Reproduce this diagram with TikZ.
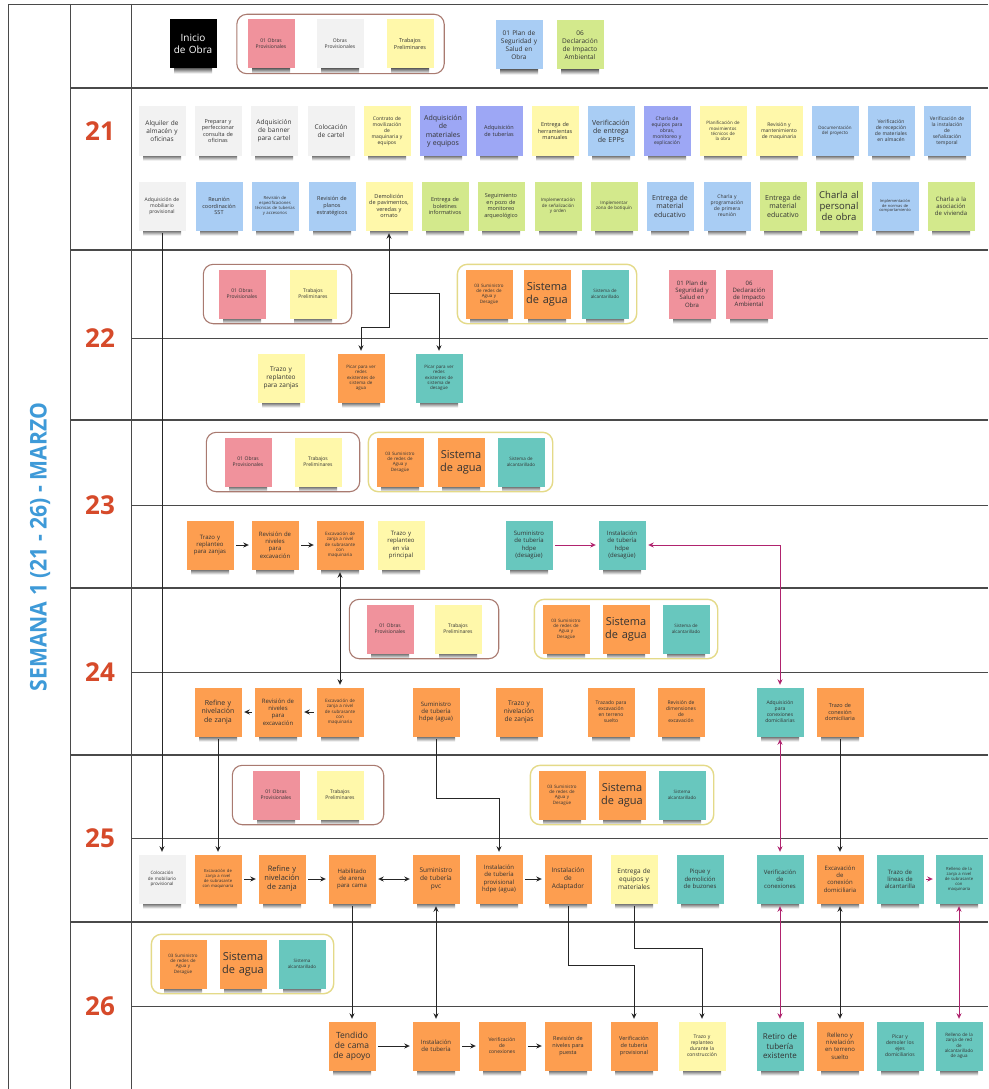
\documentclass[tikz,border=0pt]{standalone}
\usepackage{fontspec}
\setmainfont{Open Sans}
\usetikzlibrary{arrows.meta,fit}

\definecolor{stGray}{HTML}{F2F2F2}
\definecolor{stYellow}{HTML}{FFF8AA}
\definecolor{stPink}{HTML}{F0929C}
\definecolor{stBlue}{HTML}{A9CDF4}
\definecolor{stViolet}{HTML}{9DA7F5}
\definecolor{stGreen}{HTML}{D3E98C}
\definecolor{stOrange}{HTML}{FD9E50}
\definecolor{stTeal}{HTML}{68C7BE}
\definecolor{ink}{HTML}{333333}
\definecolor{frameGray}{HTML}{4A4A4A}
\definecolor{dayRed}{HTML}{D64A2A}
\definecolor{weekBlue}{HTML}{3E9AD8}
\definecolor{grpBrown}{HTML}{A97A70}
\definecolor{grpYellow}{HTML}{E4DA88}
\definecolor{linkMag}{HTML}{B0236E}

% sticky note: shadow band under it, then the note itself
% \stick[font size]{name}{x,y}{fill options}{text}
\newcommand\stick[5][6]{%
  \shade[shift={(#3)}, top color=black!70, bottom color=white] (-19,23.5) rectangle (19,29.5);
  \node[note, fill=#4, fs=#1] (#2) at (#3) {#5};
}

\begin{document}
\begin{tikzpicture}[x=1pt, y=-1pt,
  >={Stealth[length=5.5pt,width=5pt]},
  note/.style={rectangle, minimum width=47, minimum height=49, inner sep=0pt,
               text width=45, align=center, text=ink},
  fs/.style={font={\pgfmathsetmacro\notebs{#1*1.2}\fontsize{#1}{\notebs}\selectfont}},
  frameline/.style={draw=frameGray, line width=0.9pt},
  rowline/.style={draw=frameGray, line width=1.5pt},
  subline/.style={draw=frameGray, line width=0.8pt},
  grpbrown/.style={draw=grpBrown, line width=1.1pt, rounded corners=10pt, inner ysep=5pt},
  grpyellow/.style={draw=grpYellow, line width=1.4pt, rounded corners=10pt, inner xsep=8pt, inner ysep=5pt},
  daylbl/.style={text=dayRed, font=\fontsize{26}{30}\selectfont\bfseries},
  link/.style={draw=black!85, line width=0.9pt, shorten >=2.5pt, shorten <=2.5pt},
  mlink/.style={draw=linkMag, line width=0.9pt, shorten >=2.5pt, shorten <=2.5pt},
]
\fill[white] (0,0) rectangle (988,1089);
\useasboundingbox (0,0) rectangle (988,1089);

% ---------- table frame ----------
\draw[frameline] (8,1089) -- (8,4) -- (988,4);
\draw[frameline] (70,4) -- (70,1089);
\draw[frameline] (131,4) -- (131,1089);
\foreach \yy in {88,250,420,588,755,922} \draw[rowline] (70,\yy) -- (988,\yy);
\foreach \yy in {338,505,672,838,1006} \draw[subline] (131,\yy) -- (988,\yy);

\node[rotate=90, xscale=0.92, text=weekBlue, font=\fontsize{23}{26}\selectfont\bfseries] (week) at (40,547) {SEMANA 1 (21 - 26) - MARZO};

\node[daylbl] (d21) at (100,131) {21};
\node[daylbl] (d22) at (100,338) {22};
\node[daylbl] (d23) at (100,505) {23};
\node[daylbl] (d24) at (100,672) {24};
\node[daylbl] (d25) at (100,838) {25};
\node[daylbl] (d26) at (100,1006) {26};

% ---------- header ----------
\stick[10]{inicio}{193,44}{black, text=white}{Inicio\\de Obra}
\stick[5]{h01}{271,44}{stPink}{01 Obras\\Provisionales}
\stick[5]{h02}{340,44}{stGray}{Obras\\Provisionales}
\stick[5.5]{h03}{410,44}{stYellow}{Trabajos\\Preliminares}
\stick[6.5]{h04}{519,45}{stBlue}{01 Plan de\\Seguridad y\\Salud en\\Obra}
\stick[6.5]{h05}{580,45}{stGreen}{06\\Declaración\\de Impacto\\Ambiental}
\node[grpbrown, inner xsep=10.5pt, fit=(h01)(h03)] (gh) {};

% ---------- day 21 ----------
\stick[6.5]{a01}{162,131}{stGray}{Alquiler de\\almacén y\\oficinas}
\stick[5.5]{a02}{218,131}{stGray}{Preparar y\\perfeccionar\\consulta de\\oficinas}
\stick[6.5]{a03}{274,131}{stGray}{Adquisición\\de banner\\para cartel}
\stick[6.5]{a04}{331,131}{stGray}{Colocación\\de cartel}
\stick[5]{a05}{387,131}{stYellow}{Contrato de\\movilización\\de\\maquinaria y\\equipos}
\stick[7]{a06}{443,131}{stViolet}{Adquisición\\de\\materiales\\y equipos}
\stick[5.5]{a07}{499,131}{stViolet}{Adquisición\\de tuberías}
\stick[5.5]{a08}{555,131}{stYellow}{Entrega de\\herramientas\\manuales}
\stick[7]{a09}{611,131}{stBlue}{Verificación\\de entrega\\de EPPs}
\stick[5]{a10}{667,131}{stViolet}{Charla de\\equipos para\\obras,\\monitoreo y\\explicación}
\stick[4.5]{a11}{723,131}{stYellow}{Planificación de\\movimientos\\técnicos de\\la obra}
\stick[5]{a12}{779,131}{stYellow}{Revisión y\\mantenimiento\\de maquinaria}
\stick[4.5]{a13}{835,131}{stBlue}{Documentación\\del proyecto}
\stick[5]{a14}{891,131}{stBlue}{Verificación\\de recepción\\de materiales\\en almacén}
\stick[5]{a15}{947,131}{stBlue}{Verificación de\\la instalación\\de\\señalización\\temporal}

\stick[5]{b01}{162,206}{stGray}{Adquisición de\\mobiliario\\provisional}
\stick[5.5]{b02}{219,206}{stBlue}{Reunión\\coordinación\\SST}
\stick[4.2]{b03}{275,206}{stBlue}{Revisión de\\especificaciones\\técnicas de tuberías\\y accesorios}
\stick[5.5]{b04}{332,206}{stBlue}{Revisión de\\planos\\estratégicos}
\stick[5.5]{b05}{389,206}{stYellow}{Demolición\\de pavimentos,\\veredas y\\ornato}
\stick[5.5]{b06}{445,206}{stGreen}{Entrega de\\boletines\\informativos}
\stick[5.5]{b07}{501,206}{stGreen}{Seguimiento\\en pozo de\\monitoreo\\arqueológico}
\stick[4.5]{b08}{558,206}{stGreen}{Implementación\\de señalización\\y orden}
\stick[4.5]{b09}{614,206}{stGreen}{Implementar\\zona de botiquín}
\stick[7]{b10}{670,206}{stBlue}{Entrega de\\material\\educativo}
\stick[5]{b11}{727,206}{stBlue}{Charla y\\programación\\de primera\\reunión}
\stick[7]{b12}{783,206}{stGreen}{Entrega de\\material\\educativo}
\stick[9.5]{b13}{839,206}{stGreen}{Charla al\\personal\\de obra}
\stick[4]{b14}{895,206}{stBlue}{Implementación\\de normas de\\comportamiento}
\stick[6]{b15}{951,206}{stGreen}{Charla a la\\asociación\\de vivienda}

% ---------- day 22 ----------
\stick[5]{c01}{242,294}{stPink}{01 Obras\\Provisionales}
\stick[5]{c02}{313,294}{stYellow}{Trabajos\\Preliminares}
\stick[4.5]{c03}{489,294}{stOrange}{03 Suministro\\de redes de\\Agua y\\Desagüe}
\stick[11]{c04}{547,294}{stOrange}{Sistema\\de agua}
\stick[4.5]{c05}{605,294}{stTeal}{Sistema de\\alcantarillado}
\stick[6]{c06}{692,294}{stPink}{01 Plan de\\Seguridad y\\Salud en\\Obra}
\stick[6]{c07}{749,294}{stPink}{06\\Declaración\\de Impacto\\Ambiental}
\node[grpbrown, inner xsep=15pt, fit=(c01)(c02)] (g22a) {};
\node[grpyellow, fit=(c03)(c05)] (g22b) {};

\stick[6.5]{c08}{281,378}{stYellow}{Trazo y\\replanteo\\para zanjas}
\stick[4.5]{c09}{361,378}{stOrange}{Picar para ver\\redes\\existentes de\\sistema de\\agua}
\stick[4.5]{c10}{439,378}{stTeal}{Picar para ver\\redes\\existentes de\\sistema de\\desagüe}

% ---------- day 23 ----------
\stick[5]{d01}{248,462}{stPink}{01 Obras\\Provisionales}
\stick[5]{d02}{318,462}{stYellow}{Trabajos\\Preliminares}
\stick[4.5]{d03}{400,462}{stOrange}{03 Suministro\\de redes de\\Agua y\\Desagüe}
\stick[11]{d04}{461,462}{stOrange}{Sistema\\de agua}
\stick[4.5]{d05}{521,462}{stTeal}{Sistema de\\alcantarillado}
\node[grpbrown, inner xsep=18pt, fit=(d01)(d02)] (g23a) {};
\node[grpyellow, fit=(d03)(d05)] (g23b) {};

\stick[6]{d06}{210,545}{stOrange}{Trazo y\\replanteo\\para zanjas}
\stick[6]{d07}{275,545}{stOrange}{Revisión de\\niveles\\para\\excavación}
\stick[4.5]{d08}{340,545}{stOrange}{Excavación de\\zanja a nivel\\de subrasante\\con\\maquinaria}
\stick[6]{d09}{401,545}{stYellow}{Trazo y\\replanteo\\en vía\\principal}
\stick[6]{d10}{529,545}{stTeal}{Suministro\\de tubería\\hdpe\\(desagüe)}
\stick[6]{d11}{622,545}{stTeal}{Instalación\\de tubería\\hdpe\\(desagüe)}

% ---------- day 24 ----------
\stick[5]{e01}{390,629}{stPink}{01 Obras\\Provisionales}
\stick[5]{e02}{458,629}{stYellow}{Trabajos\\Preliminares}
\stick[4.5]{e03}{566,629}{stOrange}{03 Suministro\\de redes de\\Agua y\\Desagüe}
\stick[11]{e04}{626,629}{stOrange}{Sistema\\de agua}
\stick[4.5]{e05}{686,629}{stTeal}{Sistema de\\alcantarillado}
\node[grpbrown, inner xsep=17pt, fit=(e01)(e02)] (g24a) {};
\node[grpyellow, fit=(e03)(e05)] (g24b) {};

\stick[7]{e06}{218,712}{stOrange}{Refine y\\nivelación\\de zanja}
\stick[6]{e07}{278,712}{stOrange}{Revisión de\\niveles\\para\\excavación}
\stick[4.5]{e08}{340,712}{stOrange}{Excavación de\\zanja a nivel\\de subrasante\\con\\maquinaria}
\stick[6]{e09}{436,712}{stOrange}{Suministro\\de tubería\\hdpe (agua)}
\stick[6.5]{e10}{519,712}{stOrange}{Trazo y\\nivelación\\de zanjas}
\stick[5]{e11}{611,712}{stOrange}{Trazado para\\excavación\\en terreno\\suelto}
\stick[5]{e12}{681,712}{stOrange}{Revisión de\\dimensiones\\de\\excavación}
\stick[5]{e13}{780,712}{stTeal}{Adquisición\\para\\conexiones\\domiciliarias}
\stick[5.5]{e14}{840,712}{stOrange}{Trazo de\\conexión\\domiciliaria}

% ---------- day 25 ----------
\stick[5]{f01}{276,795}{stPink}{01 Obras\\Provisionales}
\stick[5]{f02}{340,795}{stYellow}{Trabajos\\Preliminares}
\stick[4.5]{f03}{562,795}{stOrange}{03 Suministro\\de redes de\\Agua y\\Desagüe}
\stick[11]{f04}{622,795}{stOrange}{Sistema\\de agua}
\stick[4.5]{f05}{682,795}{stTeal}{Sistema\\alcantarillado}
\node[grpbrown, inner xsep=20pt, fit=(f01)(f02)] (g25a) {};
\node[grpyellow, fit=(f03)(f05)] (g25b) {};

\stick[4.5]{f06}{162,879}{stGray}{Colocación\\de mobiliario\\provisional}
\stick[4.2]{f07}{218,879}{stOrange}{Excavación de\\zanja a nivel\\de subrasante\\con maquinaria}
\stick[7.5]{f08}{282,879}{stOrange}{Refine y\\nivelación\\de zanja}
\stick[6]{f09}{352,879}{stOrange}{Habilitado\\de arena\\para cama}
\stick[6.5]{f10}{436,879}{stOrange}{Suministro\\de tubería\\pvc}
\stick[6]{f11}{499,879}{stOrange}{Instalación\\de tubería\\provisional\\hdpe (agua)}
\stick[6.5]{f12}{568,879}{stOrange}{Instalación\\de\\Adaptador}
\stick[6.5]{f13}{634,879}{stYellow}{Entrega de\\equipos y\\materiales}
\stick[6]{f14}{700,879}{stTeal}{Pique y\\demolición\\de buzones}
\stick[6]{f15}{780,879}{stTeal}{Verificación\\de\\conexiones}
\stick[6]{f16}{840,879}{stOrange}{Excavación\\de\\conexión\\domiciliaria}
\stick[6]{f17}{900,879}{stTeal}{Trazo de\\líneas de\\alcantarilla}
\stick[4.2]{f18}{959,879}{stTeal}{Relleno de la\\zanja a nivel\\de subrasante\\con\\maquinaria}

% ---------- day 26 ----------
\stick[4.5]{g01}{183,964}{stOrange}{03 Suministro\\de redes de\\Agua y\\Desagüe}
\stick[11]{g02}{243,964}{stOrange}{Sistema\\de agua}
\stick[4.5]{g03}{302,964}{stTeal}{Sistema\\alcantarillado}
\node[grpyellow, fit=(g01)(g03)] (g26b) {};

\stick[8.5]{g04}{352,1046}{stOrange}{Tendido\\de cama\\de apoyo}
\stick[6]{g05}{436,1046}{stOrange}{Instalación\\de tubería}
\stick[5]{g06}{502,1046}{stOrange}{Verificación\\de\\conexiones}
\stick[5.5]{g07}{568,1046}{stOrange}{Revisión de\\niveles para\\puesta}
\stick[5.5]{g08}{634,1046}{stOrange}{Verificación\\de tubería\\provisional}
\stick[5]{g09}{702,1046}{stYellow}{Trazo y\\replanteo\\durante la\\construcción}
\stick[8]{g10}{780,1046}{stTeal}{Retiro de\\tubería\\existente}
\stick[6]{g11}{840,1046}{stOrange}{Relleno y\\nivelación\\en terreno\\suelto}
\stick[5]{g12}{900,1046}{stTeal}{Picar y\\demoler los\\ejes\\domiciliarios}
\stick[4.5]{g13}{959,1046}{stTeal}{Relleno de la\\zanja de red\\de\\alcantarillado\\de agua}

% ---------- connectors ----------
\coordinate (jdA) at (389,327);
\coordinate (jdB) at (389,293);
\coordinate (jsA) at (436,798);
\coordinate (jaA) at (568,965);
\coordinate (jeA) at (634,948);

\draw[link,->] (b01.south) -- (f06.north);
\draw[link,<->] (b05.south) -- (jdA) -| (c09.north);
\draw[link,->, shorten <=0pt] (jdB) -| (c10.north);

\draw[link,->] (d06.east) -- (d07.west);
\draw[link,->] (d07.east) -- (d08.west);
\draw[mlink,->] (d10.east) -- (d11.west);
\draw[mlink,<->] (d11.east) -| (e13.north);
\draw[link,<->] (d08.south) -- (e08.north);

\draw[link,->] (e08.west) -- (e07.east);
\draw[link,->] (e07.west) -- (e06.east);
\draw[link,->] (e06.south) -- (f07.north);
\draw[link,->] (e09.south) -- (jsA) -| (f11.north);
\draw[mlink,<->] (e13.south) -- (f15.north);
\draw[link,->] (e14.south) -- (f16.north);

\draw[link,->] (f07.east) -- (f08.west);
\draw[link,->] (f08.east) -- (f09.west);
\draw[link,<->] (f09.east) -- (f10.west);
\draw[link,->] (f11.east) -- (f12.west);
\draw[mlink,->] (f17.east) -- (f18.west);
\draw[link,->] (f09.south) -- (g04.north);
\draw[link,<->] (f10.south) -- (g05.north);
\draw[link,->] (f12.south) -- (jaA) -| (g08.north);
\draw[link,->] (f13.south) -- (jeA) -| (g09.north);
\draw[mlink,<->] (f15.south) -- (g10.north);
\draw[link,<->] (f16.south) -- (g11.north);
\draw[mlink,<->] (f18.south) -- (g13.north);

\draw[link,->] (g04.east) -- (g05.west);
\draw[link,->] (g05.east) -- (g06.west);
\draw[link,->] (g06.east) -- (g07.west);
\end{tikzpicture}
\end{document}
